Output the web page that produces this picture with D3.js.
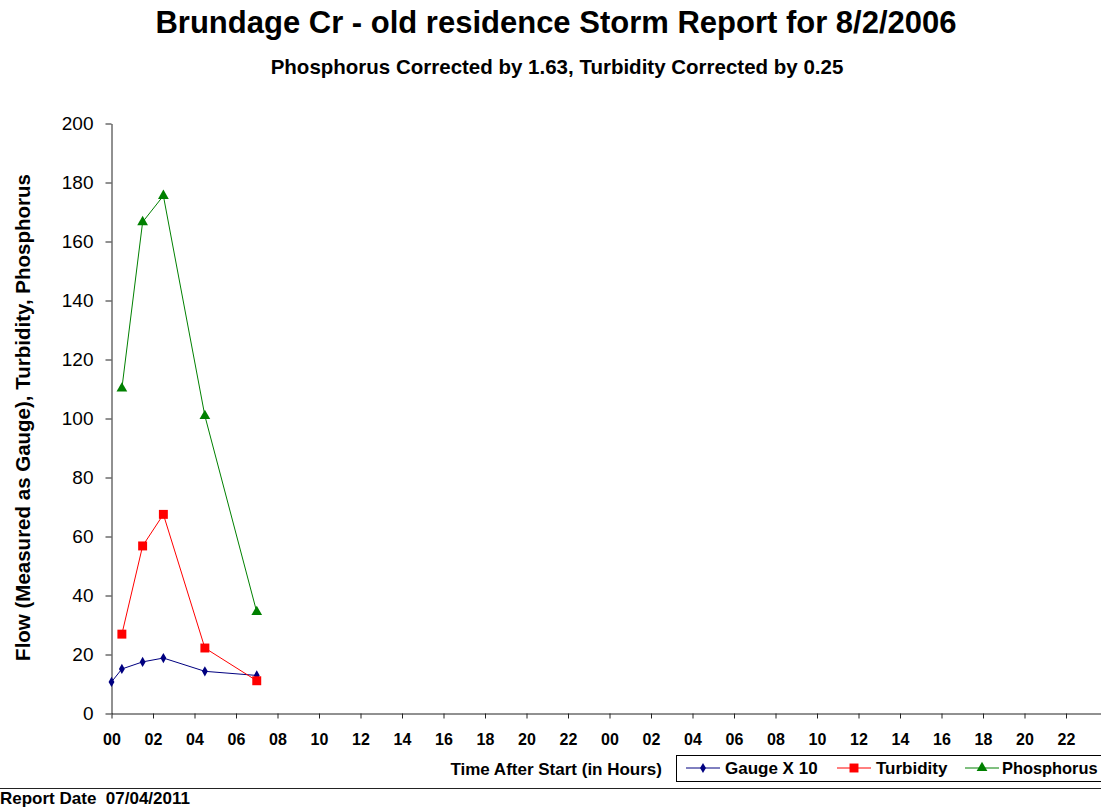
<!DOCTYPE html>
<html>
<head>
<meta charset="utf-8">
<script src="https://cdn.jsdelivr.net/npm/d3@7"></script>
<style>
  body { margin: 0; background: #fff; }
  svg { display: block; font-family: "Liberation Sans", Arial, sans-serif; }
</style>
</head>
<body>
<div id="chart"></div>
<script>
// Data (hours after start)
const hours = [0, 0.5, 1.5, 2.5, 4.5, 7];
const gauge = [10.7, 15.1, 17.5, 18.8, 14.3, 12.9];
const turbHours = [0.5, 1.5, 2.5, 4.5, 7];
const turbidity = [26.9, 56.8, 67.5, 22.2, 11.1];
const phosHours = [0.5, 1.5, 2.5, 4.5, 7];
const phosphorus = [110.2, 166.6, 175.5, 100.9, 34.4];
const xTicks = d3.range(0, 48, 2);
const yTicks = d3.range(0, 201, 20);

const W = 1101, H = 808;
const svg = d3.select("#chart").append("svg").attr("width", W).attr("height", H);

const x = d3.scaleLinear().domain([0, 48]).range([111.5, 1107.5]);
const y = d3.scaleLinear().domain([0, 200]).range([713.5, 123.5]);

// titles
svg.append("text").attr("x", 556).attr("y", 33).attr("text-anchor", "middle")
  .attr("font-size", 31).attr("font-weight", "bold").text("Brundage Cr - old residence Storm Report for 8/2/2006");
svg.append("text").attr("x", 557).attr("y", 74).attr("text-anchor", "middle")
  .attr("font-size", 20.5).attr("font-weight", "bold").text("Phosphorus Corrected by 1.63, Turbidity Corrected by 0.25");

// axes
const gx = svg.append("g").attr("transform", `translate(0,${y(0)})`)
  .call(d3.axisBottom(x).tickValues(xTicks).tickSize(5).tickSizeOuter(0)
    .tickFormat(d => String(d % 24).padStart(2, "0")));
gx.selectAll("text").attr("font-size", 16).attr("font-weight", "bold").attr("fill", "#000").attr("y", 20).attr("dy", "0.71em");

const gy = svg.append("g").attr("transform", `translate(${x(0)},0)`)
  .call(d3.axisLeft(y).tickValues(yTicks).tickSize(6).tickSizeOuter(0));
gy.selectAll("text").attr("font-size", 19).attr("fill", "#000").attr("x", -18);

svg.selectAll(".domain, .tick line").attr("stroke", "#222");

svg.append("text").attr("transform", `translate(30,417.5) rotate(-90)`).attr("text-anchor", "middle")
  .attr("font-size", 20.5).attr("font-weight", "bold").text("Flow (Measured as Gauge), Turbidity, Phosphorus");

svg.append("text").attr("x", 662).attr("y", 775).attr("text-anchor", "end")
  .attr("font-size", 17).attr("font-weight", "bold").text("Time After Start (in Hours)");

// series
const series = [
  { name: "Gauge X 10", xs: hours, ys: gauge, color: "#000080", symbol: d3.symbolDiamond, size: 30 },
  { name: "Turbidity", xs: turbHours, ys: turbidity, color: "#ff0000", symbol: d3.symbolSquare, size: 80 },
  { name: "Phosphorus", xs: phosHours, ys: phosphorus, color: "#008000", symbol: d3.symbolTriangle, size: 50 }
];

const line = d3.line().x(d => x(d[0])).y(d => y(d[1]));
series.forEach(s => {
  const pts = s.xs.map((h, i) => [h, s.ys[i]]);
  svg.append("path").attr("d", line(pts)).attr("fill", "none").attr("stroke", s.color).attr("stroke-width", 1);
  svg.append("g").selectAll("path").data(pts).join("path")
    .attr("transform", d => `translate(${x(d[0])},${y(d[1])})`)
    .attr("d", d3.symbol().type(s.symbol).size(s.size)).attr("fill", s.color);
});

// legend
const leg = svg.append("g");
leg.append("rect").attr("x", 676.5).attr("y", 755.5).attr("width", 440).attr("height", 26)
  .attr("fill", "#fff").attr("stroke", "#000");
const legX = [686, 837, 965];
series.forEach((s, i) => {
  const lx = legX[i];
  leg.append("line").attr("x1", lx).attr("x2", lx + 34).attr("y1", 768).attr("y2", 768).attr("stroke", s.color);
  leg.append("path").attr("transform", `translate(${lx + 17},768)`)
    .attr("d", d3.symbol().type(s.symbol).size(s.size)).attr("fill", s.color);
  leg.append("text").attr("x", lx + (i === 2 ? 37 : 39)).attr("y", 774)
    .attr("font-size", i === 2 ? 16.4 : 17).attr("font-weight", "bold").text(s.name);
});

// footer
svg.append("line").attr("x1", 0).attr("x2", W).attr("y1", 788.5).attr("y2", 788.5).attr("stroke", "#222");
svg.append("text").attr("x", 0).attr("y", 804).attr("font-size", 17).attr("font-weight", "bold")
  .style("white-space", "pre").text("Report Date  07/04/2011");
</script>
</body>
</html>
